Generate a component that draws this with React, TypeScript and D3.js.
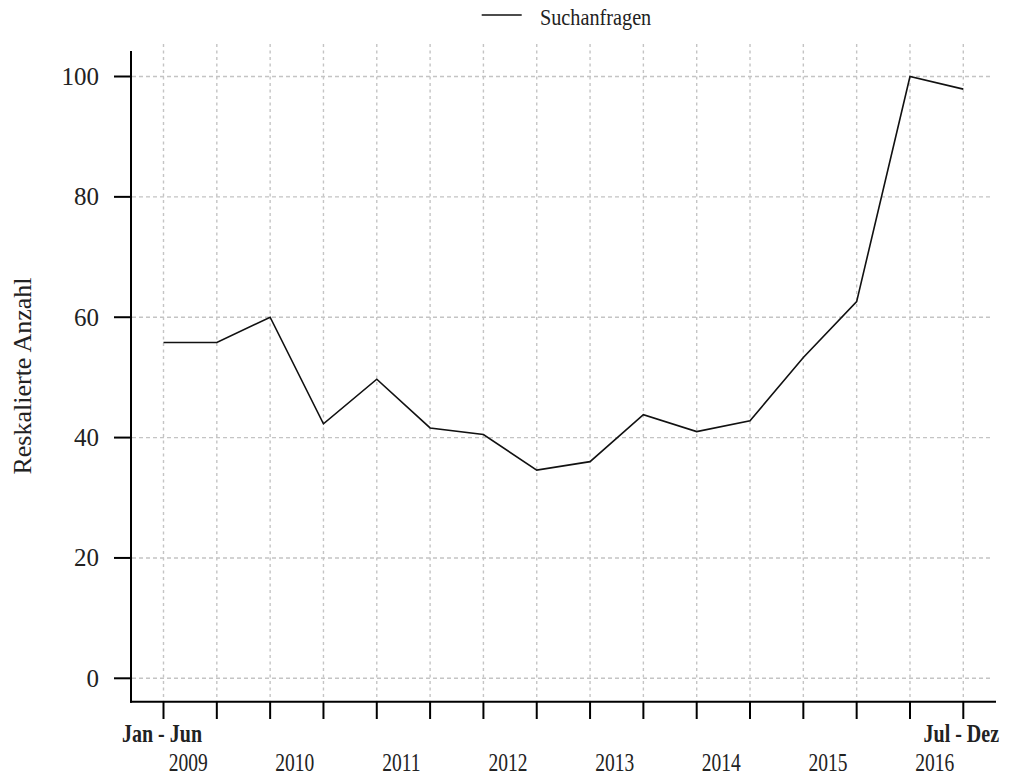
import React from "react";
import * as d3 from "d3";

const periods = [
  "Jan - Jun 2009", "Jul - Dez 2009",
  "Jan - Jun 2010", "Jul - Dez 2010",
  "Jan - Jun 2011", "Jul - Dez 2011",
  "Jan - Jun 2012", "Jul - Dez 2012",
  "Jan - Jun 2013", "Jul - Dez 2013",
  "Jan - Jun 2014", "Jul - Dez 2014",
  "Jan - Jun 2015", "Jul - Dez 2015",
  "Jan - Jun 2016", "Jul - Dez 2016",
];
const suchanfragen = [55.8, 55.8, 60.0, 42.3, 49.7, 41.6, 40.5, 34.6, 36.0, 43.8, 41.0, 42.8, 53.3, 62.6, 100, 97.9];
const yTicks = [0, 20, 40, 60, 80, 100];
const years = ["2009", "2010", "2011", "2012", "2013", "2014", "2015", "2016"];
const seriesName = "Suchanfragen";
const yTitle = "Reskalierte Anzahl";

const W = 1009;
const H = 777;
const FONT = "'Liberation Serif', 'Times New Roman', serif";

export default function App() {
  const x = d3.scaleLinear().domain([0, periods.length - 1]).range([163.5, 963.3]);
  const y = d3.scaleLinear().domain([0, 100]).range([678.3, 76.5]);
  const axisX = 131;
  const axisY = 701.7;

  const line = d3
    .line<number>()
    .x((_, i) => x(i))
    .y((d) => y(d));

  const idx = d3.range(periods.length);

  return (
    <svg
      width={W}
      height={H}
      style={{ position: "absolute", left: 0, top: 0, background: "#fff" }}
    >
      {/* grid */}
      {idx.map((i) => (
        <line
          key={"vg" + i}
          x1={x(i)}
          x2={x(i)}
          y1={44}
          y2={axisY - 1}
          stroke="#c4c4c4"
          strokeWidth={1.4}
          strokeDasharray="3,3.5"
        />
      ))}
      {yTicks.map((t) => (
        <line
          key={"hg" + t}
          x1={axisX + 1}
          x2={990}
          y1={y(t)}
          y2={y(t)}
          stroke="#c4c4c4"
          strokeWidth={1.4}
          strokeDasharray="4,3"
        />
      ))}

      {/* axes */}
      <line x1={axisX} x2={axisX} y1={51} y2={axisY + 1} stroke="#000" strokeWidth={2} />
      <line x1={axisX - 1} x2={996} y1={axisY} y2={axisY} stroke="#000" strokeWidth={2} />
      {yTicks.map((t) => (
        <g key={"yt" + t}>
          <line x1={114} x2={axisX} y1={y(t)} y2={y(t)} stroke="#000" strokeWidth={2} />
          <text
            x={99}
            y={y(t) + 8.5}
            textAnchor="end"
            fontFamily={FONT}
            fontSize={25}
            fill="#222"
          >
            {t}
          </text>
        </g>
      ))}
      {idx.map((i) => (
        <line
          key={"xt" + i}
          x1={x(i)}
          x2={x(i)}
          y1={axisY}
          y2={719}
          stroke="#000"
          strokeWidth={2}
        />
      ))}

      {/* x labels */}
      <g transform={`translate(${x(0) - 1.5},741.5) scale(0.8,1)`}>
        <text textAnchor="middle" fontFamily={FONT} fontSize={25} fontWeight="bold" fill="#222">
          Jan - Jun
        </text>
      </g>
      <g transform={`translate(${x(periods.length - 1) - 2},741.5) scale(0.8,1)`}>
        <text textAnchor="middle" fontFamily={FONT} fontSize={25} fontWeight="bold" fill="#222">
          Jul - Dez
        </text>
      </g>
      {years.map((yr, k) => (
        <g
          key={yr}
          transform={`translate(${(x(2 * k) + x(2 * k + 1)) / 2 - 2},770.5) scale(0.78,1)`}
        >
          <text textAnchor="middle" fontFamily={FONT} fontSize={25} fill="#222">
            {yr}
          </text>
        </g>
      ))}

      {/* y title */}
      <text
        transform={`translate(31,376) rotate(-90)`}
        textAnchor="middle"
        fontFamily={FONT}
        fontSize={26}
        fill="#222"
      >
        {yTitle}
      </text>

      {/* data line */}
      <path
        d={line(suchanfragen) || ""}
        fill="none"
        stroke="#111"
        strokeWidth={1.6}
        strokeLinejoin="miter"
      />

      {/* legend */}
      <line x1={481.7} x2={521.7} y1={15} y2={15} stroke="#111" strokeWidth={1.6} />
      <g transform="translate(540,24.5) scale(0.88,1)">
        <text fontFamily={FONT} fontSize={23} fill="#222">
          {seriesName}
        </text>
      </g>
    </svg>
  );
}
